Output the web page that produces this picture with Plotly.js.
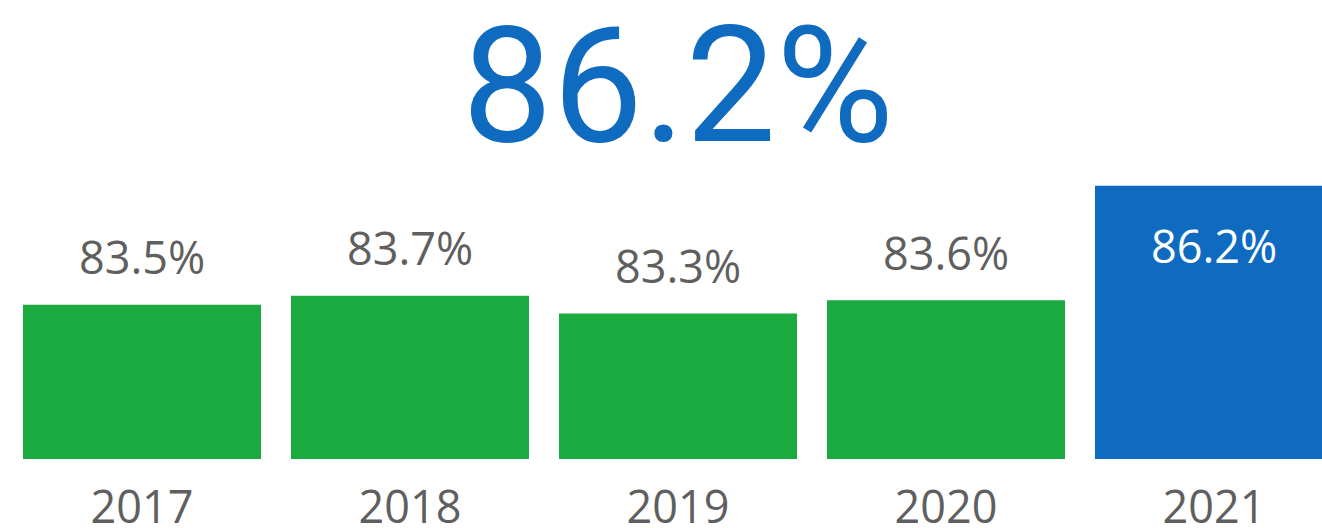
<!DOCTYPE html>
<html>
<head>
<meta charset="utf-8">
<script src="https://cdn.plot.ly/plotly-3.0.1.min.js"></script>
<style>html,body{margin:0;padding:0;background:#fff;}#chart{width:1322px;height:528px;}</style>
</head>
<body>
<div id="chart"></div>
<script>
const years = ['2017', '2018', '2019', '2020', '2021'];
const values = [83.5, 83.7, 83.3, 83.6, 86.2];
const labels = ['83.5%', '83.7%', '83.3%', '83.6%', '86.2%'];
const headline = '86.2%';
const highlightYear = '2021';

const GREEN = '#1BAA40';
const BLUE = '#0F6BC0';
const GRAY = '#5F5F5F';

const colors = years.map(y => y === highlightYear ? BLUE : GREEN);

const trace = {
  type: 'bar',
  x: years,
  y: values,
  marker: {color: colors, line: {width: 0}},
  hoverinfo: 'skip'
};

const annotations = years.map((y, i) => ({
  x: i, y: values[i], xref: 'x', yref: 'y',
  text: labels[i], showarrow: false,
  yanchor: 'middle', xanchor: 'center',
  yshift: y === highlightYear ? -60 : 48,
  font: {family: 'Open Sans', size: 45, color: y === highlightYear ? '#FFFFFF' : GRAY}
}));

annotations.push({
  x: 2, xref: 'x', y: 0.817, yref: 'paper',
  text: headline, showarrow: false,
  xanchor: 'center', yanchor: 'middle',
  yshift: -2,
  font: {family: 'Roboto', size: 161, color: BLUE}
});

const layout = {
  width: 1322, height: 528,
  margin: {l: 8, r: 0, t: 0, b: 69, pad: 0},
  paper_bgcolor: '#FFFFFF', plot_bgcolor: '#FFFFFF',
  showlegend: false,
  hovermode: false,
  bargap: 0.112,
  xaxis: {
    type: 'category',
    range: [-0.5, 4.403],
    showgrid: false, zeroline: false, showline: false,
    ticks: '', ticklabelstandoff: 18,
    tickfont: {family: 'Open Sans', size: 45, color: GRAY},
    fixedrange: true
  },
  yaxis: {
    range: [80, 90.41],
    visible: false, showgrid: false, zeroline: false,
    fixedrange: true
  },
  annotations: annotations
};

Plotly.newPlot('chart', [trace], layout, {displayModeBar: false});
</script>
</body>
</html>
